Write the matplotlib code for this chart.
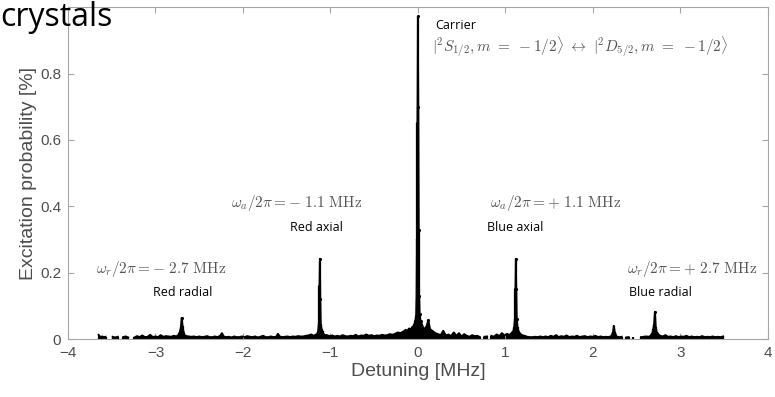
import numpy as np
import matplotlib
matplotlib.use('Agg')
from matplotlib import pyplot as plt

plt.rcParams['mathtext.fontset'] = 'cm'

nan = np.nan

# detuning [MHz] and excitation probability (nan = gap in the scan)
detuning = [
    -3.65, -3.63, -3.61, -3.59, -3.57, nan, -3.49, -3.46, -3.43, nan, -3.37, -3.34, -3.31, nan,
    -3.24, -3.21, -3.18, -3.15, -3.12, -3.09, -3.06, -3.03, -3.00, -2.97, -2.94, -2.91, -2.88,
    -2.85, -2.82, -2.79, -2.76,
    -2.74, -2.72, -2.71, -2.70, -2.69, -2.68, -2.67, -2.66, -2.64, -2.62,
    -2.59, -2.56, -2.53, -2.50, -2.47, -2.44, -2.41, -2.38, -2.35, -2.32, -2.29, -2.26, -2.24,
    -2.22, -2.19, -2.16, -2.13, -2.10, -2.07, -2.04, -2.01, -1.98, -1.95, -1.92, -1.89, -1.86,
    -1.83, -1.80, -1.77, -1.74, -1.71, -1.68, -1.65, -1.62, -1.60, -1.58, -1.55, -1.52, -1.49,
    -1.46, -1.43, -1.40, -1.37, -1.34, -1.31, -1.28, -1.25, -1.22, -1.19, -1.17,
    -1.15, -1.14, -1.13, -1.125, -1.12, -1.115, -1.11, -1.10, -1.09, -1.08, -1.06,
    -1.04, -1.01, -0.98, -0.95, -0.92, -0.89, -0.86, -0.83, -0.80, -0.77, -0.74, -0.71, -0.68,
    -0.65, -0.62, -0.59, -0.56, -0.53, -0.50, -0.47, -0.44, -0.41, -0.38, -0.35, -0.32, -0.29,
    -0.26, -0.23, -0.20, -0.17, -0.14, -0.12, -0.10, -0.08, -0.06, -0.05, -0.04, -0.03, -0.02,
    -0.015, -0.01, -0.005, 0.0, 0.005, 0.01, 0.015, 0.02, 0.03, 0.04, 0.05, 0.06, 0.08, 0.10,
    0.12, 0.14, 0.16, 0.18, 0.20,
    0.23, 0.26, 0.29, 0.32, 0.35, 0.38, 0.41, 0.44, 0.47, 0.50, 0.53, 0.56, 0.59, 0.62, 0.65,
    0.68, 0.71, nan, 0.76, 0.79, nan, 0.84, 0.87, 0.90, 0.93, 0.96, 0.99, 1.02, 1.05, 1.07, 1.09,
    1.10, 1.11, 1.115, 1.12, 1.125, 1.13, 1.14, 1.15, 1.17, 1.19,
    1.22, 1.25, 1.28, 1.31, 1.34, 1.37, 1.40, 1.43, 1.46, 1.49, 1.52, 1.55, 1.58, 1.61, 1.64,
    1.67, 1.70, 1.73, 1.76, 1.79, 1.82, 1.85, 1.88, 1.91, 1.94, 1.97, 2.00, 2.03, 2.06, 2.09,
    2.12, 2.15, 2.18, 2.21, 2.23, 2.24, 2.25, 2.27, 2.30, 2.33, nan, 2.38, 2.41, nan, 2.46, nan,
    2.55, 2.58, 2.61, 2.64, 2.66,
    2.68, 2.69, 2.70, 2.71, 2.72, 2.73, 2.75, 2.77,
    2.80, 2.83, 2.86, 2.89, 2.92, 2.95, 2.98, 3.01, 3.04, 3.07, 3.10, 3.13, 3.16, 3.19, 3.22,
    3.25, 3.28, 3.31, 3.34, 3.37, 3.40, 3.43, 3.46, 3.49,
]
excitation = [
    .013, .006, .008, .006, .007, nan, .007, .005, .007, nan, .006, .008, .005, nan,
    .005, .009, .006, .011, .006, .007, .013, .006, .008, .006, .012, .007, .009,
    .008, .007, .010, .008,
    .012, .022, .035, .064, .040, .024, .015, .010, .009, .008,
    .007, .008, .006, .008, .006, .007, .009, .006, .006, .008, .006, .010, .018,
    .008, .006, .007, .005, .008, .006, .006, .008, .006, .009, .007, .006, .008,
    .005, .007, .010, .006, .006, .008, .006, .007, .016, .008, .006, .007, .008,
    .006, .008, .007, .009, .008, .008, .010, .011, .014, .010, .013,
    .016, .025, .050, .160, .242, .120, .045, .030, .024, .016, .012,
    .012, .009, .011, .008, .010, .008, .012, .009, .008, .010, .009, .013, .008,
    .011, .010, .014, .010, .012, .009, .011, .010, .013, .011, .012, .015, .013,
    .016, .020, .018, .022, .028, .025, .032, .030, .038, .035, .045, .055, .070,
    .120, .300, .650, .972, .700, .330, .130, .075, .055, .048, .042, .035, .030, .040,
    .057, .030, .026, .022, .018,
    .015, .012, .025, .011, .014, .009, .020, .010, .018, .008, .015, .010, .007, .012, .009,
    .010, .006, nan, .007, .008, nan, .010, .007, .014, .009, .018, .011, .016, .012, .018, .024,
    .035, .060, .150, .242, .150, .060, .035, .025, .016, .012,
    .010, .007, .006, .006, .007, .006, .008, .006, .008, .006, .010, .007, .012, .006, .009,
    .007, .011, .006, .008, .007, .010, .006, .008, .009, .006, .008, .007, .010, .006, .008,
    .006, .007, .006, .009, .020, .040, .022, .008, .006, .007, nan, .005, .006, nan, .005, nan,
    .006, .007, .008, .007, .010,
    .018, .030, .045, .082, .035, .022, .014, .010,
    .008, .012, .007, .008, .006, .009, .006, .008, .007, .010, .006, .008, .006, .007, .006,
    .009, .006, .007, .006, .008, .006, .007, .006, .008,
]

formula_text = [r'$\omega_r/2\pi = -\ 2.7\ \mathrm{MHz}$', r'$\omega_a/2\pi = -\ 1.1\ \mathrm{MHz}$',
                r'$\omega_a/2\pi = +\ 1.1\ \mathrm{MHz}$', r'$\omega_r/2\pi = +\ 2.7\ \mathrm{MHz}$']
formula_pos = [(-2.93, 0.21), (-1.39, 0.41), (1.57, 0.41), (3.14, 0.21)]
name_text = ['Red radial', 'Red axial', 'Blue axial', 'Blue radial']
name_pos = [(-2.69, 0.14), (-1.16, 0.335), (1.11, 0.335), (2.77, 0.14)]

x = np.array(detuning, dtype=float)
y = np.array(excitation, dtype=float)

fig = plt.figure(figsize=(7.75, 3.97), dpi=100)
ax = fig.add_axes([0.0877, 0.146, 0.903, 0.836])

ok = ~np.isnan(x)
ax.vlines(x[ok], 0, y[ok], color='k', lw=1.6)
ax.plot(x, y, color='k', lw=1.3)
ax.fill_between(x, 0, y, color='k', lw=0)
big = ok & (y > 0.05)
ax.plot(x[big], y[big], 'k.', ms=2.5)

ax.set_xlim(-4, 4)
ax.set_ylim(0, 1.0)
ax.set_xticks([-4, -3, -2, -1, 0, 1, 2, 3, 4])
ax.set_yticks([0, 0.2, 0.4, 0.6, 0.8])
ax.set_yticklabels(['0', '0.2', '0.4', '0.6', '0.8'])

grey = '#4d4d4d'
for s in ax.spines.values():
    s.set_color('#a6a6a6')
    s.set_linewidth(0.8)
ax.tick_params(direction='in', top=True, right=True, length=4, color='#a6a6a6',
               labelsize=11, labelcolor=grey, pad=5)
for lab in ax.get_xticklabels() + ax.get_yticklabels():
    lab.set_family('Liberation Sans')

ax.set_xlabel('Detuning [MHz]', fontsize=14, family='Liberation Sans', color=grey, labelpad=2)
ax.set_ylabel('Excitation probability [%]', fontsize=14, family='Liberation Sans', color=grey, labelpad=2)

for t, (px, py) in zip(formula_text, formula_pos):
    ax.text(px, py, t, fontsize=11, color='#555555', ha='center', va='center')
for t, (px, py) in zip(name_text, name_pos):
    ax.text(px, py, t, fontsize=9, family='Open Sans', color='k', ha='center', va='center')

ax.text(0.2, 0.945, 'Carrier', fontsize=9, family='Open Sans', color='k', ha='left', va='center')
ax.text(0.16, 0.88, r'$|^2S_{1/2}, m\ =\ -1/2\rangle\ \leftrightarrow\ |^2D_{5/2}, m\ =\ -1/2\rangle$',
        fontsize=11, color='#555555', ha='left', va='center')

fig.text(0.0, 0.935, 'crystals', fontsize=23, family='Open Sans', color='k', ha='left', va='baseline')

fig.savefig('out.png', dpi=100)
